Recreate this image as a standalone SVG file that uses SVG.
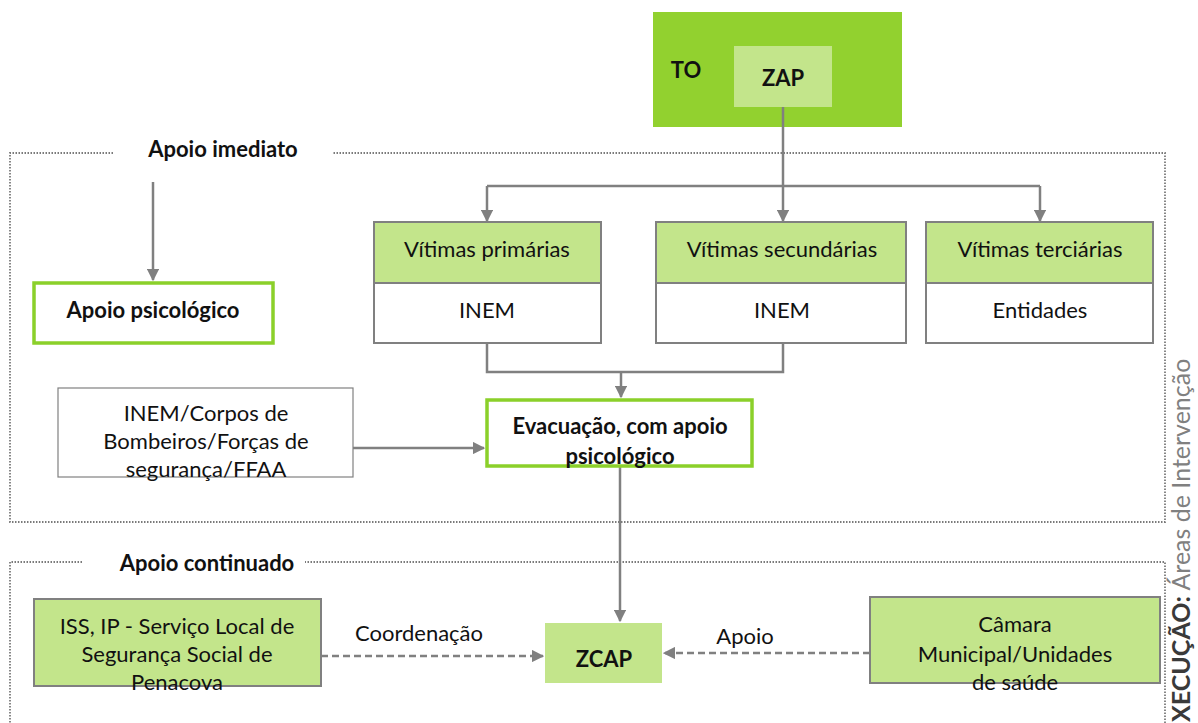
<svg xmlns="http://www.w3.org/2000/svg" width="1198" height="723" viewBox="0 0 1198 723">
<defs>
<style>
text{font-family:Lato,"Open Sans","DejaVu Sans",sans-serif;font-size:22px;fill:#111;text-anchor:middle}
.b{font-weight:bold}
.frame{fill:none;stroke:#7a7a7a;stroke-width:1.8;stroke-dasharray:1.5 1.5}
.conn{fill:none;stroke:#808080;stroke-width:2.5}
.dash{fill:none;stroke:#808080;stroke-width:2.5;stroke-dasharray:7 4}
.gbox{fill:#fff;stroke:#8bd02a;stroke-width:3.5}
.lbox{fill:#c3e58b;stroke:#808080;stroke-width:2}
.wbox{fill:#fff;stroke:#808080;stroke-width:2}
</style>
<marker id="ah" viewBox="0 0 10 10" refX="9" refY="5" markerWidth="5" markerHeight="5" orient="auto" markerUnits="strokeWidth">
<path d="M0,0 L10,5 L0,10 z" fill="#808080"/>
</marker>
</defs>

<g id="frames">
<path class="frame" d="M113,153 H10 V522 H1165 V153 H332"/>
<text class="b" x="223" y="157">Apoio imediato</text>
<path class="frame" d="M82,562 H10 V723 M1165,723 V562 H305"/>
<text class="b" x="207" y="571">Apoio continuado</text>
</g>

<g id="to">
<rect x="653" y="12" width="249" height="115" fill="#92d12f"/>
<text class="b" x="686" y="78">TO</text>
<rect x="734" y="46" width="98" height="61" fill="#c3e58b"/>
<text class="b" x="783" y="86">ZAP</text>
</g>

<g id="connectors">
<path class="conn" d="M783,107 V186"/>
<path class="conn" d="M487,186 H1040"/>
<path class="conn" d="M487,186 V221" marker-end="url(#ah)"/>
<path class="conn" d="M783,186 V221" marker-end="url(#ah)"/>
<path class="conn" d="M1040,186 V221" marker-end="url(#ah)"/>
<path class="conn" d="M153,182 V280" marker-end="url(#ah)"/>
<path class="conn" d="M487,343 V372 H783 V343"/>
<path class="conn" d="M621,372 V397" marker-end="url(#ah)"/>
<path class="conn" d="M353,448 H484" marker-end="url(#ah)"/>
<path class="conn" d="M620,467 V621" marker-end="url(#ah)"/>
<path class="dash" d="M321,656 H543" marker-end="url(#ah)"/>
<path class="dash" d="M870,653 H664" marker-end="url(#ah)"/>
<text x="419" y="641">Coordenação</text>
<text x="745" y="644">Apoio</text>
</g>

<g id="apoio-psicologico">
<rect class="gbox" x="34" y="283" width="239" height="60"/>
<text class="b" x="153" y="318">Apoio psicológico</text>
</g>

<g id="vitimas-primarias">
<rect class="lbox" x="374" y="222" width="227" height="61"/>
<rect class="wbox" x="374" y="283" width="227" height="60"/>
<text x="487" y="257">Vítimas primárias</text>
<text x="487" y="318">INEM</text>
</g>

<g id="vitimas-secundarias">
<rect class="lbox" x="656" y="222" width="250" height="61"/>
<rect class="wbox" x="656" y="283" width="250" height="60"/>
<text x="782" y="257">Vítimas secundárias</text>
<text x="782" y="318">INEM</text>
</g>

<g id="vitimas-terciarias">
<rect class="lbox" x="926" y="222" width="227" height="61"/>
<rect class="wbox" x="926" y="283" width="227" height="60"/>
<text x="1040" y="257">Vítimas terciárias</text>
<text x="1040" y="318">Entidades</text>
</g>

<g id="inem-corpos">
<rect x="58" y="388" width="295" height="89" fill="#fff" stroke="#808080" stroke-width="1.2"/>
<text x="206" y="421">INEM/Corpos de</text>
<text x="206" y="449">Bombeiros/Forças de</text>
<text x="206" y="477">segurança/FFAA</text>
</g>

<g id="evacuacao">
<rect class="gbox" x="487" y="400" width="265" height="66"/>
<text class="b" x="620" y="434">Evacuação, com apoio</text>
<text class="b" x="620" y="464">psicológico</text>
</g>

<g id="iss">
<rect class="lbox" x="34" y="599" width="287" height="87"/>
<text x="177" y="634">ISS, IP - Serviço Local de</text>
<text x="177" y="662">Segurança Social de</text>
<text x="177" y="690">Penacova</text>
</g>

<g id="zcap">
<rect x="545" y="623" width="117" height="60" fill="#c3e58b"/>
<text class="b" x="604" y="667">ZCAP</text>
</g>

<g id="camara">
<rect class="lbox" x="870" y="597" width="290" height="86"/>
<text x="1015" y="632">Câmara</text>
<text x="1015" y="662">Municipal/Unidades</text>
<text x="1015" y="690">de saúde</text>
</g>

<g id="side-title">
<text transform="translate(1190,722) rotate(-90)" x="0" y="0" style="text-anchor:start;font-size:25px;fill:#808080"><tspan class="b" style="fill:#3a3a3a">XECUÇÃO:</tspan> Áreas de Intervenção</text>
</g>
</svg>
